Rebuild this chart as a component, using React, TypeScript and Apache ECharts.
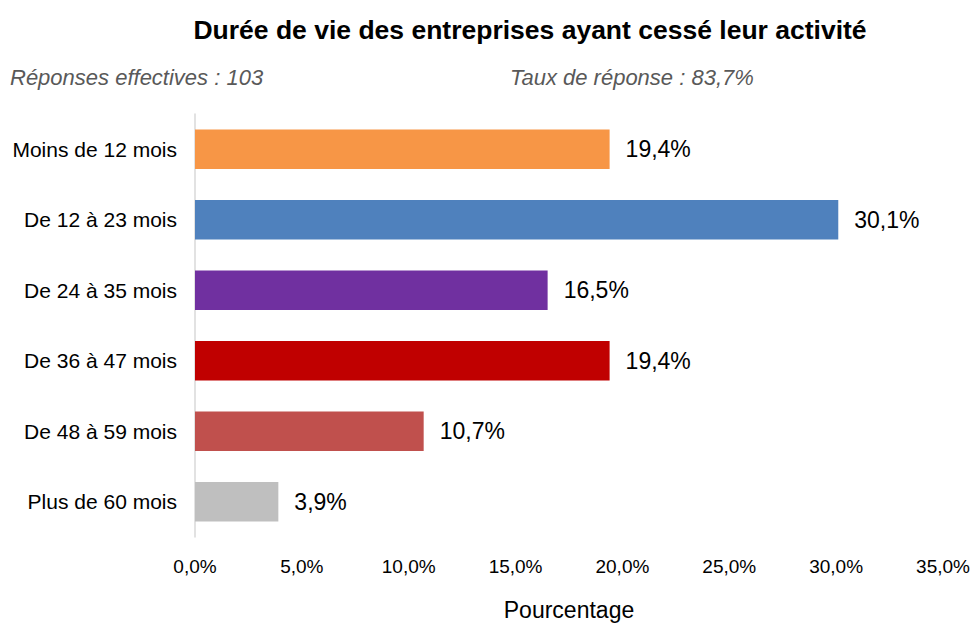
import React, { useEffect, useRef } from "react";
import * as echarts from "echarts";

const categories = [
  "Moins de 12 mois",
  "De 12 à 23 mois",
  "De 24 à 35 mois",
  "De 36 à 47 mois",
  "De 48 à 59 mois",
  "Plus de 60 mois",
];
const values = [19.4, 30.1, 16.5, 19.4, 10.7, 3.9];
const colors = ["#F79646", "#4F81BD", "#7030A0", "#C00000", "#C0504D", "#BFBFBF"];
const titleText = "Durée de vie des entreprises ayant cessé leur activité";
const subtitleLeft = "Réponses effectives : 103";
const subtitleRight = "Taux de réponse : 83,7%";
const axisName = "Pourcentage";

const fmt = (v: number) => v.toFixed(1).replace(".", ",") + "%";

export default function App() {
  const ref = useRef<HTMLDivElement>(null);
  useEffect(() => {
    if (!ref.current) return;
    const chart = echarts.init(ref.current, null, { renderer: "svg" });
    const font = "Liberation Sans, Arial, sans-serif";
    chart.setOption({
      animation: false,
      backgroundColor: "#ffffff",
      textStyle: { fontFamily: font },
      title: {
        text: titleText,
        left: 525,
        top: 11,
        textAlign: "center",
        textStyle: { fontSize: 26.5, fontWeight: "bold", color: "#000", fontFamily: font },
      },
      graphic: [
        {
          type: "text",
          left: 10,
          top: 66,
          style: {
            text: subtitleLeft,
            fontSize: 22,
            fontStyle: "italic",
            fill: "#595959",
            fontFamily: font,
          },
        },
        {
          type: "text",
          left: 510,
          top: 66,
          style: {
            text: subtitleRight,
            fontSize: 22,
            fontStyle: "italic",
            fill: "#595959",
            fontFamily: font,
          },
        },
      ],
      grid: { left: 195, right: 32, top: 114, bottom: 85, containLabel: false },
      xAxis: {
        type: "value",
        min: 0,
        max: 35,
        interval: 5,
        name: axisName,
        nameLocation: "middle",
        nameGap: 61,
        nameTextStyle: { fontSize: 23, color: "#000", fontFamily: font },
        axisLine: { show: false },
        axisTick: { show: false },
        splitLine: { show: false },
        axisLabel: {
          fontSize: 19,
          color: "#000",
          margin: 20,
          formatter: (v: number) => fmt(v),
          fontFamily: font,
        },
      },
      yAxis: {
        type: "category",
        data: categories,
        inverse: true,
        axisLine: { show: true, lineStyle: { color: "#D9D9D9", width: 1.5 } },
        axisTick: { show: false },
        axisLabel: { fontSize: 21, color: "#000", margin: 18, fontFamily: font },
      },
      series: [
        {
          type: "bar",
          data: values.map((v, i) => ({ value: v, itemStyle: { color: colors[i] } })),
          barCategoryGap: "44%",
          label: {
            show: true,
            position: "right",
            distance: 16,
            fontSize: 23,
            color: "#000",
            fontFamily: font,
            formatter: (p: any) => fmt(p.value),
          },
        },
      ],
    });
    return () => chart.dispose();
  }, []);
  return <div ref={ref} style={{ width: 975, height: 626, position: "absolute", left: 0, top: 0 }} />;
}
